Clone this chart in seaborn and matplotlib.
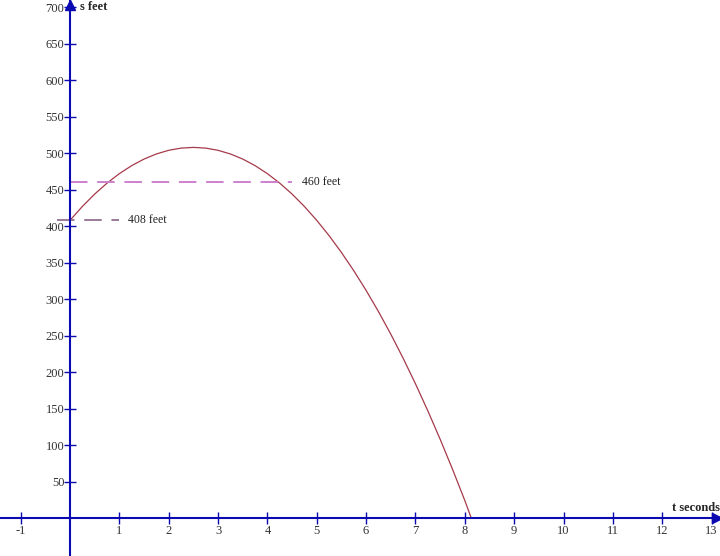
import numpy as np
import pandas as pd
import seaborn as sns
import matplotlib.pyplot as plt

# height of the ball (feet), every quarter second
t_sec = [0, 0.25, 0.5, 0.75, 1, 1.25, 1.5, 1.75, 2, 2.25, 2.5, 2.75, 3, 3.25, 3.5,
         3.75, 4, 4.25, 4.5, 4.75, 5, 5.25, 5.5, 5.75, 6, 6.25, 6.5, 6.75, 7, 7.25,
         7.5, 7.75, 8, 8.13]
s_feet = [408, 427, 444, 459, 472, 483, 492, 499, 504, 507, 508, 507, 504, 499, 492,
          483, 472, 459, 444, 427, 408, 387, 364, 339, 312, 283, 252, 219, 184, 147,
          108, 67, 24, 0]

# dashed reference levels
ref_levels = [460, 408]
ref_t0 = [0, -0.27]
ref_t1 = [4.5, 1.0]
ref_labels = ['460 feet', '408 feet']
ref_label_t = [4.7, 1.17]

x_ticks = [-1, 1, 2, 3, 4, 5, 6, 7, 8, 9, 10, 11, 12, 13]
y_ticks = [50, 100, 150, 200, 250, 300, 350, 400, 450, 500, 550, 600, 650, 700]

sns.set_theme(style='white')
plt.rcParams['font.family'] = ['Liberation Serif', 'DejaVu Serif']

fig = plt.figure(figsize=(7.2, 5.56), dpi=100)
ax = fig.add_axes([0, 0, 1, 1])

axis_col = '#0a0ab0'
sns.lineplot(x=t_sec, y=s_feet, ax=ax, color='#a53a4a', linewidth=0.9, sort=False)

ref_cols = ['#cc80cc', '#9a7a9a']
for lvl, a, b, lab, lt, c in zip(ref_levels, ref_t0, ref_t1, ref_labels, ref_label_t, ref_cols):
    seg = pd.DataFrame({'t': [a, b], 's': [lvl, lvl]})
    sns.lineplot(data=seg, x='t', y='s', ax=ax, color=c, linewidth=1.4,
                 dashes=False, linestyle=(0, (9, 5)))
    ax.text(lt, lvl, lab, fontsize=8.5, va='center', ha='left', color='#222222')

ax.set_xlim(-1.418, 13.17)
ax.set_ylim(-52, 710)

for side in ['top', 'right']:
    ax.spines[side].set_visible(False)
ax.spines['left'].set_position(('data', 0))
ax.spines['bottom'].set_position(('data', 0))
for side in ['left', 'bottom']:
    ax.spines[side].set_color(axis_col)
    ax.spines[side].set_linewidth(1.5)

ax.set_xticks(x_ticks)
ax.set_yticks(y_ticks)
ax.set_xticklabels([str(v) for v in x_ticks])
ax.set_yticklabels([str(v) for v in y_ticks])
ax.tick_params(axis='both', direction='inout', length=8, width=1, color=axis_col,
               labelsize=9, labelcolor='#333333', bottom=True, left=True)
ax.tick_params(axis='x', pad=1)
ax.tick_params(axis='y', pad=0)
ax.set_xlabel('')
ax.set_ylabel('')

# arrow heads on the axes
ax.plot([0], [703], marker='^', markersize=7, color=axis_col, clip_on=False)
ax.plot([13.1], [0], marker='>', markersize=7, color=axis_col, clip_on=False)

ax.text(0.2, 700, 's feet', fontsize=9, fontweight='bold', va='center', ha='left')
ax.text(12.2, 14, 't seconds', fontsize=9, fontweight='bold', va='center', ha='left')

fig.savefig('out.png', dpi=100)
